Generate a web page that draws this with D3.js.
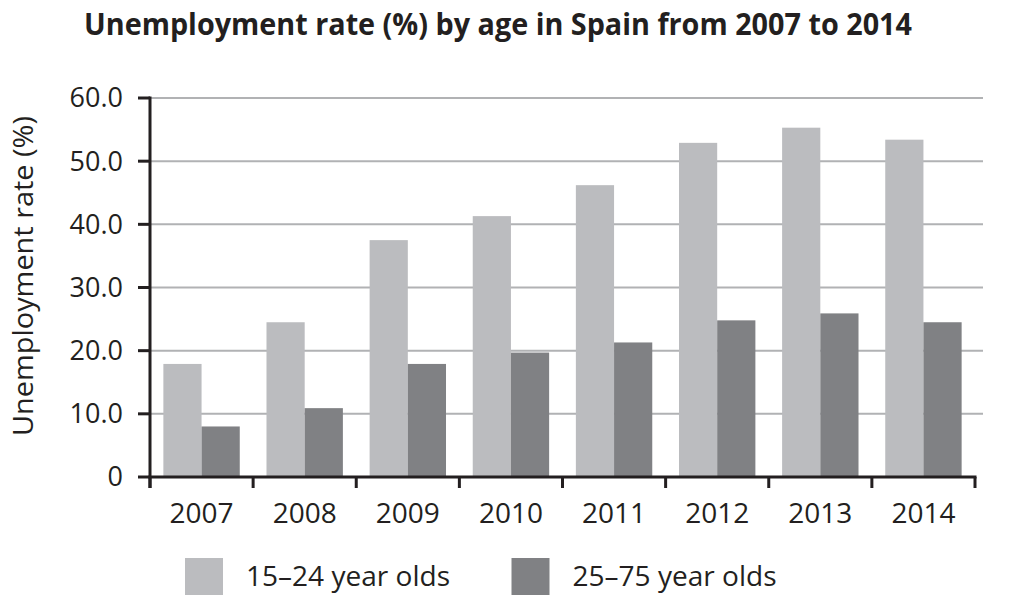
<!DOCTYPE html>
<html>
<head>
<meta charset="utf-8">
<script src="https://cdn.jsdelivr.net/npm/d3@7/dist/d3.min.js"></script>
<style>
  html, body { margin: 0; padding: 0; background: #fff; }
  svg { display: block; }
  text { font-family: "Open Sans", "Liberation Sans", Arial, sans-serif; fill: #231f20; }
</style>
</head>
<body>
<svg id="chart" width="1015" height="595"></svg>
<script>
const years = ["2007", "2008", "2009", "2010", "2011", "2012", "2013", "2014"];
const seriesNames = ["15–24 year olds", "25–75 year olds"];
const youth = [17.9, 24.5, 37.5, 41.3, 46.2, 52.9, 55.3, 53.4];
const adult = [8.0, 10.9, 17.9, 19.7, 21.3, 24.8, 25.9, 24.5];
const yTicks = [0, 10, 20, 30, 40, 50, 60];
const yTickLabels = ["0", "10.0", "20.0", "30.0", "40.0", "50.0", "60.0"];
const colors = ["#bbbcbf", "#808184"];

(function () {
const svg = d3.select("#chart");
const pL = 150, pR = 975, pT = 98, pB = 477;

const x0 = d3.scaleBand().domain(years).range([pL, pR]).padding(0);
const x1 = d3.scaleBand().domain(seriesNames).range([0, x0.bandwidth()])
  .paddingInner(0).paddingOuter(0.35);
const y = d3.scaleLinear().domain([0, 60]).range([pB, pT]);

// gridlines
svg.append("g").selectAll("line").data(yTicks.filter(d => d > 0)).join("line")
  .attr("x1", pL).attr("x2", 983)
  .attr("y1", d => y(d)).attr("y2", d => y(d))
  .attr("stroke", "#b1b2b4").attr("stroke-width", 2);

// bars
const rows = years.map((yr, i) => ({ year: yr, vals: [youth[i], adult[i]] }));
const g = svg.append("g").selectAll("g").data(rows).join("g")
  .attr("transform", d => `translate(${x0(d.year)},0)`);
g.selectAll("rect").data(d => d.vals.map((v, j) => ({ name: seriesNames[j], v, j }))).join("rect")
  .attr("x", d => x1(d.name))
  .attr("width", x1.bandwidth())
  .attr("y", d => y(d.v))
  .attr("height", d => y(0) - y(d.v))
  .attr("fill", d => colors[d.j]);

// x axis
svg.append("line").attr("x1", pL - 1.5).attr("x2", pR + 1.5)
  .attr("y1", pB).attr("y2", pB)
  .attr("stroke", "#231f20").attr("stroke-width", 3);
const boundaries = years.map(d => x0(d)).concat([x0(years[years.length - 1]) + x0.bandwidth()]);
svg.append("g").selectAll("line").data(boundaries).join("line")
  .attr("x1", d => d).attr("x2", d => d)
  .attr("y1", pB).attr("y2", pB + 11)
  .attr("stroke", "#231f20").attr("stroke-width", 3);
svg.append("g").selectAll("text").data(years).join("text")
  .attr("x", d => x0(d) + x0.bandwidth() / 2)
  .attr("y", 523)
  .attr("text-anchor", "middle")
  .attr("font-size", 28)
  .text(d => d);

// y axis
svg.append("line").attr("x1", pL).attr("x2", pL)
  .attr("y1", pT - 1.5).attr("y2", pB + 11)
  .attr("stroke", "#231f20").attr("stroke-width", 3);
svg.append("g").selectAll("line").data(yTicks).join("line")
  .attr("x1", pL - 12).attr("x2", pL)
  .attr("y1", d => y(d)).attr("y2", d => y(d))
  .attr("stroke", "#231f20").attr("stroke-width", 3);
svg.append("g").selectAll("text").data(yTicks).join("text")
  .attr("x", 123)
  .attr("y", d => y(d))
  .attr("dy", "0.35em")
  .attr("text-anchor", "end")
  .attr("font-size", 27)
  .text((d, i) => yTickLabels[i]);

// y label
svg.append("text")
  .attr("transform", "rotate(-90)")
  .attr("x", -276).attr("y", 33)
  .attr("text-anchor", "middle")
  .attr("font-size", 27)
  .attr("textLength", 320)
  .attr("lengthAdjust", "spacingAndGlyphs")
  .text("Unemployment rate (%)");

// title
svg.append("text")
  .attr("x", 84).attr("y", 35)
  .attr("font-size", 31)
  .attr("font-weight", "bold")
  .attr("textLength", 828)
  .attr("lengthAdjust", "spacingAndGlyphs")
  .text("Unemployment rate (%) by age in Spain from 2007 to 2014");

// legend
const legendX = [185, 511.5];
const lg = svg.append("g").selectAll("g").data(seriesNames).join("g")
  .attr("transform", (d, i) => `translate(${legendX[i]},558)`);
lg.append("rect").attr("width", 38).attr("height", 37).attr("fill", (d, i) => colors[i]);
lg.append("text").attr("x", 61).attr("y", 28).attr("font-size", 28)
  .attr("textLength", 204).attr("lengthAdjust", "spacingAndGlyphs")
  .text(d => d);
})();
</script>
</body>
</html>
